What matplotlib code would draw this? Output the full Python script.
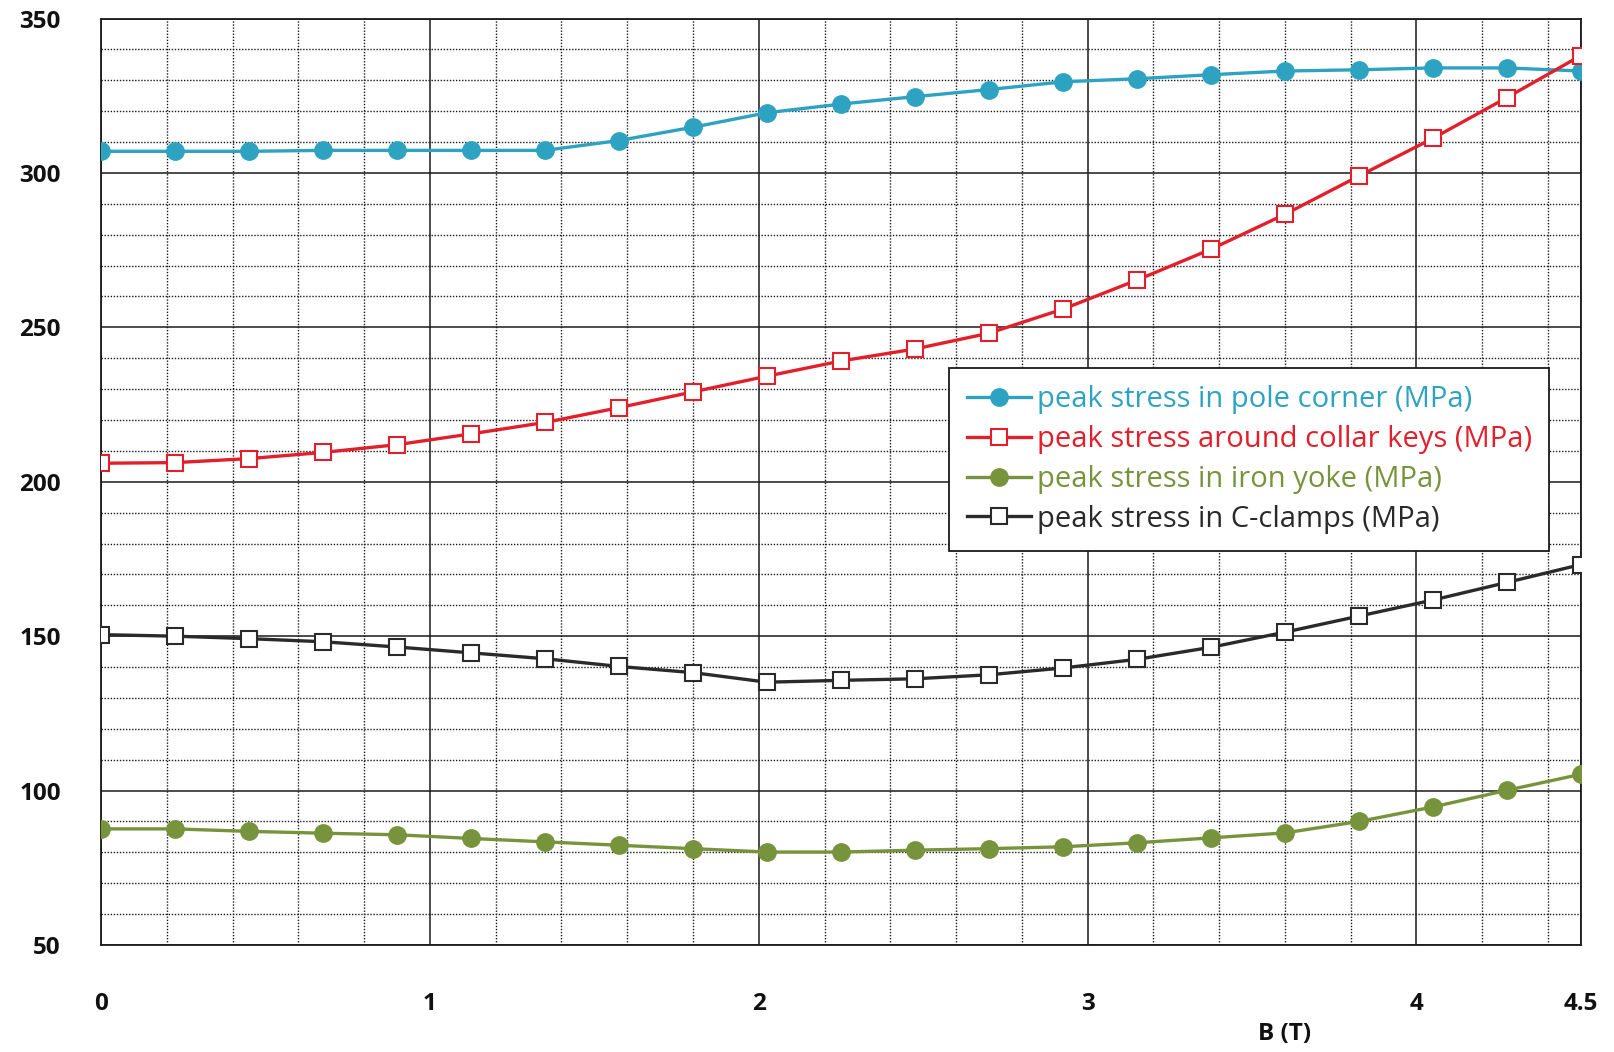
import matplotlib
matplotlib.use("Agg")
import matplotlib.pyplot as plt
from matplotlib.ticker import MultipleLocator, FixedLocator

# ---- data ----
b_field = [0, 0.225, 0.45, 0.675, 0.9, 1.125, 1.35, 1.575, 1.8, 2.025, 2.25,
           2.475, 2.7, 2.925, 3.15, 3.375, 3.6, 3.825, 4.05, 4.275, 4.5]
pole_corner = [307, 307, 307, 307.3, 307.3, 307.3, 307.3, 310.5, 314.8, 319.5, 322.3,
               324.7, 327, 329.5, 330.5, 331.8, 333, 333.4, 334, 334, 333]
collar_keys = [206, 206.2, 207.5, 209.5, 212, 215.5, 219.2, 224, 229.1, 234.2, 239.1,
               243, 248.1, 255.9, 265.3, 275.3, 286.6, 299, 311.2, 324.4, 338]
iron_yoke = [87.6, 87.6, 86.8, 86.2, 85.7, 84.5, 83.4, 82.3, 81.2, 80.1, 80.1,
             80.7, 81.2, 81.8, 83.1, 84.7, 86.3, 90, 94.7, 100.1, 105.3]
c_clamps = [150.5, 150, 149.2, 148.2, 146.5, 144.6, 142.7, 140.2, 138.2, 135.1, 135.7,
            136.2, 137.5, 139.7, 142.5, 146.4, 151.3, 156.5, 161.7, 167.4, 173.2]

labels = ["peak stress in pole corner (MPa)",
          "peak stress around collar keys (MPa)",
          "peak stress in iron yoke (MPa)",
          "peak stress in C-clamps (MPa)"]
x_ticks = [0, 1, 2, 3, 4, 4.5]
x_tick_labels = ["0", "1", "2", "3", "4", "4.5"]
y_ticks = [50, 100, 150, 200, 250, 300, 350]
x_label = "B (T)"

# ---- style ----
c_blue = "#2EA3C1"
c_red = "#E1202C"
c_green = "#77933C"
c_black = "#2A2A2A"
font = ["Open Sans", "DejaVu Sans"]
plt.rcParams['font.family'] = font

fig = plt.figure(figsize=(16.14, 10.52), dpi=100)
ax = fig.add_axes([0.0626, 0.1017, 0.9169, 0.8807])

ax.plot(b_field, pole_corner, color=c_blue, lw=2.4, marker='o', ms=12.5,
        mfc=c_blue, mec=c_blue, label=labels[0], zorder=3)
ax.plot(b_field, collar_keys, color=c_red, lw=2.4, marker='s', ms=11.5,
        mfc='white', mec=c_red, mew=1.5, label=labels[1], zorder=4)
ax.plot(b_field, iron_yoke, color=c_green, lw=2.4, marker='o', ms=12.5,
        mfc=c_green, mec=c_green, label=labels[2], zorder=3)
ax.plot(b_field, c_clamps, color=c_black, lw=2.4, marker='s', ms=11.5,
        mfc='white', mec=c_black, mew=1.5, label=labels[3], zorder=3)

ax.set_xlim(0, 4.5)
ax.set_ylim(50, 350)
ax.xaxis.set_major_locator(FixedLocator(x_ticks))
ax.set_xticklabels(x_tick_labels)
ax.xaxis.set_minor_locator(MultipleLocator(0.2))
ax.yaxis.set_major_locator(FixedLocator(y_ticks))
ax.yaxis.set_minor_locator(MultipleLocator(10))

ax.grid(which='major', color='#1a1a1a', lw=1.1, ls='-', zorder=1)
ax.grid(which='minor', color='#1a1a1a', lw=1.0, ls=(0, (1, 1.2)), zorder=1)
ax.set_axisbelow(True)

ax.tick_params(which='both', length=0)
ax.tick_params(axis='x', pad=34, labelsize=17.5)
ax.tick_params(axis='y', pad=29, labelsize=17.5)
for t in ax.get_xticklabels() + ax.get_yticklabels():
    t.set_fontweight('bold')
    t.set_color('#111111')

for s in ax.spines.values():
    s.set_color('#1a1a1a')
    s.set_linewidth(1.3)

ax.set_xlabel(x_label, fontsize=17.5, fontweight='bold', color='#111111')
ax.xaxis.set_label_coords(0.80, -0.096)
ax.xaxis.label.set_va('center')

leg = ax.legend(loc='upper left', bbox_to_anchor=(0.573, 0.623), fontsize=21,
                frameon=True, fancybox=False, framealpha=1, edgecolor='#1a1a1a',
                handlelength=2.2, handletextpad=0.2, borderpad=0.6,
                labelspacing=0.37, borderaxespad=0)
leg.get_frame().set_linewidth(1.3)
for txt, col in zip(leg.get_texts(), [c_blue, c_red, c_green, c_black]):
    txt.set_color(col)
leg.set_zorder(10)

fig.savefig("out.png", dpi=100)
